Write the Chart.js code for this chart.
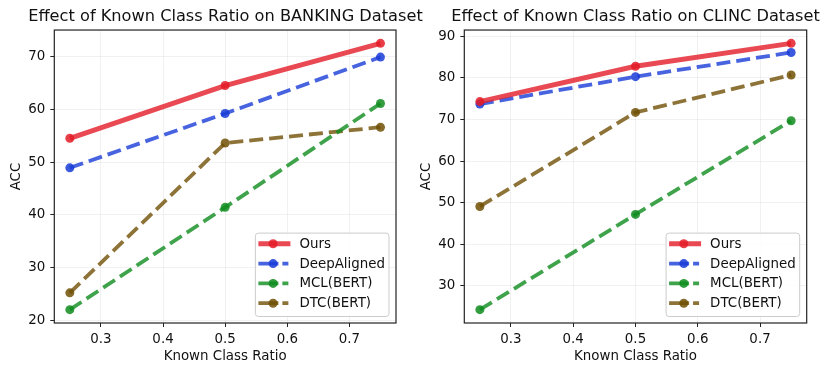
<!DOCTYPE html>
<html><head><meta charset="utf-8">
<script src="https://cdn.jsdelivr.net/npm/chart.js@4.4.0/dist/chart.umd.min.js"></script>
<style>
html,body{margin:0;padding:0;background:#fff;overflow:hidden;width:830px;height:374px;position:relative;}
canvas{position:absolute;top:0;}
</style></head><body>
<canvas id="c1" width="451" height="374" style="left:0px;width:451px;height:374px"></canvas>
<canvas id="c2" width="451" height="374" style="left:410px;width:451px;height:374px"></canvas>
<script>
// ---- data ----
const ratios = [0.25, 0.5, 0.75];
const seriesNames = ['Ours', 'DeepAligned', 'MCL(BERT)', 'DTC(BERT)'];
const bankingOurs = [54.5, 64.5, 72.5];
const bankingDeepAligned = [48.9, 59.2, 69.9];
const bankingMCL = [22.0, 41.4, 61.1];
const bankingDTC = [25.2, 53.6, 56.6];
const clincOurs = [74.3, 82.8, 88.3];
const clincDeepAligned = [73.7, 80.3, 86.1];
const clincMCL = [24.3, 47.2, 69.7];
const clincDTC = [49.1, 71.7, 80.7];
const xTickValues = [0.3, 0.4, 0.5, 0.6, 0.7];
const bankingYTicks = [20, 30, 40, 50, 60, 70];
const clincYTicks = [30, 40, 50, 60, 70, 80, 90];
const titles = ['Effect of Known Class Ratio on BANKING Dataset', 'Effect of Known Class Ratio on CLINC Dataset'];

// ---- styles ----
const FONT = 'DejaVu Sans';
const FS = 13.4;
const styles = [
  {color: 'rgba(228,28,40,0.8)', point: 'rgba(228,28,40,0.85)', width: 5, dash: [], legendDash: []},
  {color: 'rgba(25,60,215,0.8)', point: 'rgba(25,60,215,0.85)', width: 3.8, dash: [14, 6], legendDash: [20, 4]},
  {color: 'rgba(15,140,30,0.8)', point: 'rgba(15,140,30,0.85)', width: 3.8, dash: [14, 6], legendDash: [20, 4]},
  {color: 'rgba(112,80,5,0.8)', point: 'rgba(112,80,5,0.85)', width: 3.8, dash: [14, 6], legendDash: [20, 4]}
];

function range(series) {
  const all = series.flat();
  const mn = Math.min(...all), mx = Math.max(...all);
  const m = (mx - mn) * 0.05;
  return [mn - m, mx + m];
}

const framePlugin = {
  id: 'frame',
  afterDatasetsDraw(chart) {
    const a = chart.chartArea, c = chart.ctx;
    c.save();
    c.setLineDash([]);
    c.strokeStyle = '#222';
    c.lineWidth = 1.2;
    c.strokeRect(a.left, a.top, a.right - a.left, a.bottom - a.top);
    c.restore();
  }
};

const legendPlugin = {
  id: 'mlegend',
  afterDraw(chart) {
    const a = chart.chartArea, c = chart.ctx;
    c.save();
    c.setLineDash([]);
    c.font = FS + 'px "' + FONT + '"';
    const dsets = chart.data.datasets;
    let tw = 0;
    dsets.forEach(d => { tw = Math.max(tw, c.measureText(d.label).width); });
    const w = tw + 44 + 4, h = 83.4;
    const right = a.right - 7, bottom = a.bottom - 6.5;
    const left = right - w, top = bottom - h;
    c.beginPath();
    if (c.roundRect) c.roundRect(left, top, w, h, 3); else c.rect(left, top, w, h);
    c.fillStyle = 'rgba(255,255,255,0.8)';
    c.fill();
    c.strokeStyle = '#cccccc';
    c.lineWidth = 1;
    c.stroke();
    dsets.forEach((d, i) => {
      const st = styles[i];
      const y = top + 10.7 + i * 19.8;
      const x0 = left + 3, x1 = st.legendDash.length ? left + 33 : left + 35;
      c.save();
      c.setLineDash(st.legendDash);
      c.lineWidth = d.borderWidth;
      c.strokeStyle = d.borderColor;
      c.lineCap = 'butt';
      c.beginPath(); c.moveTo(x0, y); c.lineTo(x1, y); c.stroke();
      c.restore();
      c.beginPath();
      c.arc(left + 3 + 14.7, y, d.pointRadius, 0, Math.PI * 2);
      c.fillStyle = d.pointBackgroundColor;
      c.fill();
      c.fillStyle = '#111';
      c.textBaseline = 'middle';
      c.textAlign = 'left';
      c.fillText(d.label, left + 44, y + 0.5);
    });
    c.restore();
  }
};

function makeChart(id, title, series, yTicks, yWidth, y2Width) {
  const [ymin, ymax] = range(series);
  const xm = (ratios[ratios.length - 1] - ratios[0]) * 0.05;
  const datasets = series.map((vals, i) => ({
    label: seriesNames[i],
    data: ratios.map((r, j) => ({x: r, y: vals[j]})),
    borderColor: styles[i].color,
    backgroundColor: styles[i].point,
    pointBackgroundColor: styles[i].point,
    pointBorderWidth: 0,
    pointRadius: 4.5,
    pointHoverRadius: 4.5,
    borderWidth: styles[i].width,
    borderDash: styles[i].dash.slice(),
    borderCapStyle: 'butt',
    tension: 0,
    fill: false,
    clip: 8
  }));
  return new Chart(document.getElementById(id), {
    type: 'line',
    data: {datasets},
    plugins: [framePlugin, legendPlugin],
    options: {
      responsive: false,
      animation: false,
      events: [],
      layout: {padding: 0},
      plugins: {
        legend: {display: false},
        tooltip: {enabled: false},
        title: {
          display: true, text: title, color: '#111',
          font: {family: FONT, size: 16.2, weight: 'normal'},
          padding: {top: 6.6, bottom: 4}
        }
      },
      scales: {
        x: {
          type: 'linear', min: ratios[0] - xm, max: ratios[ratios.length - 1] + xm,
          afterBuildTicks(s) { s.ticks = xTickValues.map(v => ({value: v})); },
          afterFit(s) { s.height = 51; },
          ticks: {color: '#111', font: {family: FONT, size: FS}, padding: 4.5, maxRotation: 0, autoSkip: false,
                  callback: v => Number(v).toFixed(1)},
          grid: {color: 'rgba(0,0,0,0.07)', lineWidth: 0.8, tickColor: '#222', tickLength: 4, tickWidth: 1},
          border: {display: false},
          title: {display: true, text: 'Known Class Ratio', color: '#111', font: {family: FONT, size: FS},
                  padding: {top: 0, bottom: 9.3}}
        },
        y: {
          type: 'linear', position: 'left', min: ymin, max: ymax,
          afterBuildTicks(s) { s.ticks = yTicks.map(v => ({value: v})); },
          afterFit(s) { s.width = yWidth; },
          ticks: {color: '#111', font: {family: FONT, size: FS}, padding: 5, autoSkip: false,
                  callback: v => String(v)},
          grid: {color: 'rgba(0,0,0,0.07)', lineWidth: 0.8, tickColor: '#222', tickLength: 4, tickWidth: 1},
          border: {display: false},
          title: {display: true, text: 'ACC', color: '#111', font: {family: FONT, size: FS},
                  padding: {top: 8, bottom: 0}}
        },
        y2: {
          type: 'linear', position: 'right', display: true,
          afterFit(s) { s.width = y2Width; },
          ticks: {display: false},
          grid: {display: false, drawTicks: false},
          border: {display: false}
        }
      }
    }
  });
}

makeChart('c1', titles[0], [bankingOurs, bankingDeepAligned, bankingMCL, bankingDTC], bankingYTicks, 54.3, 55);
makeChart('c2', titles[1], [clincOurs, clincDeepAligned, clincMCL, clincDTC], clincYTicks, 54.3, 54.3);
</script>
</body></html>
